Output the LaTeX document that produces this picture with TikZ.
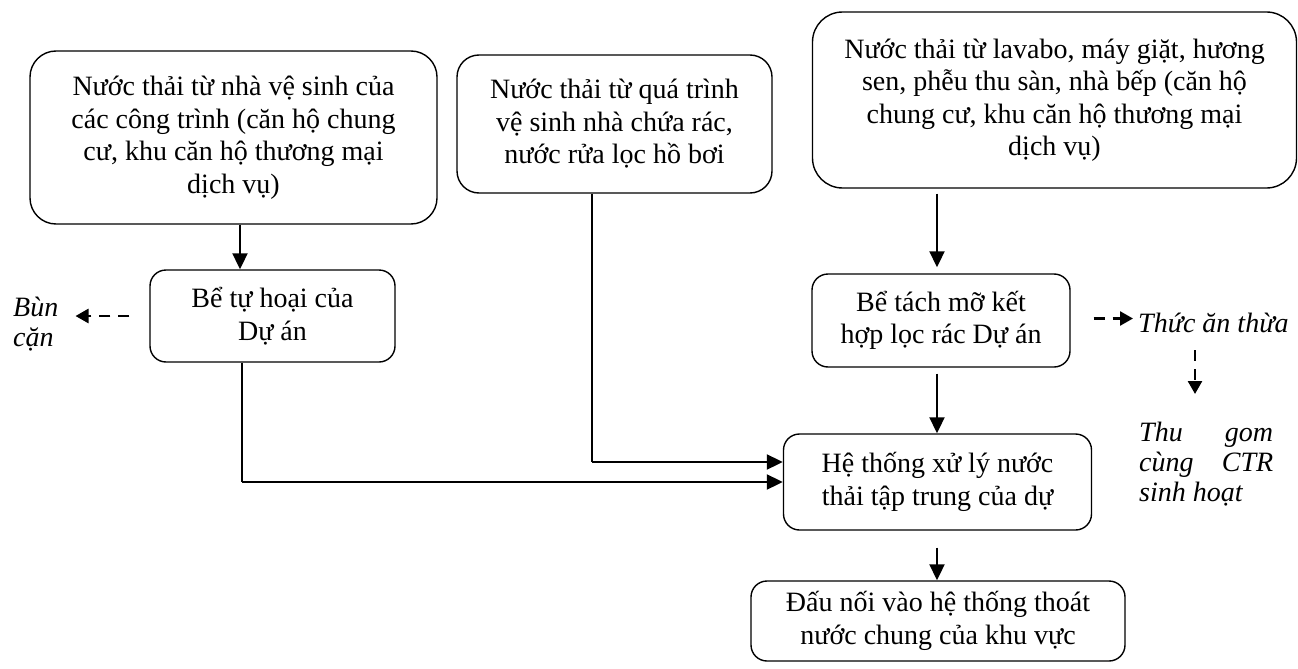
\documentclass[tikz,border=0pt]{standalone}
\usepackage{fontspec}
\setmainfont{Liberation Serif}
\usetikzlibrary{arrows.meta}
\begin{document}
\begin{tikzpicture}[x=1pt,y=-1pt,
  box/.style={draw, line width=1.4pt, align=center, inner sep=0pt,
    font=\fontsize{28}{32.5}\selectfont},
  flow/.style={line width=2pt, -{Triangle[length=16pt,width=15pt]}},
  pipe/.style={line width=1.2pt},
  side/.style={line width=2.6pt, dash pattern=on 11pt off 8pt,
    -{Triangle[length=13pt,width=14pt]}},
  note/.style={font=\fontsize{28}{30}\selectfont\itshape, inner sep=0pt, align=left}]
\useasboundingbox (0,0) rectangle (1298,669);

% sources
\node[box, rounded corners=26pt, minimum width=407pt, minimum height=173pt] (toilet) at (233.5,137.5)
  {Nước thải từ nhà vệ sinh của\\các công trình (căn hộ chung\\cư, khu căn hộ thương mại\\dịch vụ)};
\node[box, rounded corners=22pt, minimum width=315pt, minimum height=138pt] (refuse) at (614.5,124)
  {Nước thải từ quá trình\\vệ sinh nhà chứa rác,\\nước rửa lọc hồ bơi};
\node[box, rounded corners=30pt, minimum width=484pt, minimum height=176pt] (grey) at (1054.5,100)
  {Nước thải từ lavabo, máy giặt, hương\\sen, phễu thu sàn, nhà bếp (căn hộ\\chung cư, khu căn hộ thương mại\\dịch vụ)};

% pre-treatment
\node[box, rounded corners=16pt, minimum width=245pt, minimum height=92pt] (septic) at (272.5,316)
  {Bể tự hoại của\\Dự án};
\node[box, rounded corners=16pt, minimum width=258pt, minimum height=93pt] (grease) at (941,320.5)
  {Bể tách mỡ kết\\hợp lọc rác Dự án};

% treatment and discharge
\node[box, rounded corners=16pt, minimum width=308pt, minimum height=96pt] (plant) at (937.5,482)
  {Hệ thống xử lý nước\\thải tập trung của dự};
\node[box, rounded corners=16pt, minimum width=374pt, minimum height=80pt] (outlet) at (938,621)
  {Đấu nối vào hệ thống thoát\\nước chung của khu vực};

% by-products
\node[note, anchor=north west] (sludge) at (13,297) {Bùn\\cặn};
\node[note, anchor=base west] (food) at (1138,332) {Thức ăn thừa};
\node[note, anchor=north west] (waste) at (1139,422)
  {\hbox to 134pt{Thu\hfill gom}\\\hbox to 134pt{cùng\hfill CTR}\\sinh hoạt};

% routing coordinates
\coordinate (ka) at (240,0);
\coordinate (kb) at (242,0);
\coordinate (kc) at (592,462);
\coordinate (kg) at (937,0);
\coordinate (kf) at (1195,0);

% main flow
\draw[flow] (toilet.south -| ka) -- (septic.north -| ka);
\draw[pipe] (septic.south -| kb) -- (kb |- plant.west);
\draw[flow] (kb |- plant.west) -- (plant.west);
\draw[pipe] (refuse.south -| kc) -- (kc);
\draw[flow] (kc) -- (plant.west |- kc);
\draw[flow] ([yshift=-5pt]grey.south -| kg) -- ([yshift=6pt]grease.north -| kg);
\draw[flow] ([yshift=-6pt]grease.south -| kg) -- (plant.north -| kg);
\draw[flow] ([yshift=-17pt]plant.south -| kg) -- (outlet.north -| kg);

% side streams
\draw[side] ([xshift=-20pt]septic.west) -- ([xshift=17pt]sludge.east |- septic.west);
\draw[side] ([xshift=23pt,yshift=2pt]grease.east) -- ([xshift=-5pt]food.west |- 0,318.5);
\draw[side] (kf |- 0,350) -- (kf |- 0,394);
\end{tikzpicture}
\end{document}
